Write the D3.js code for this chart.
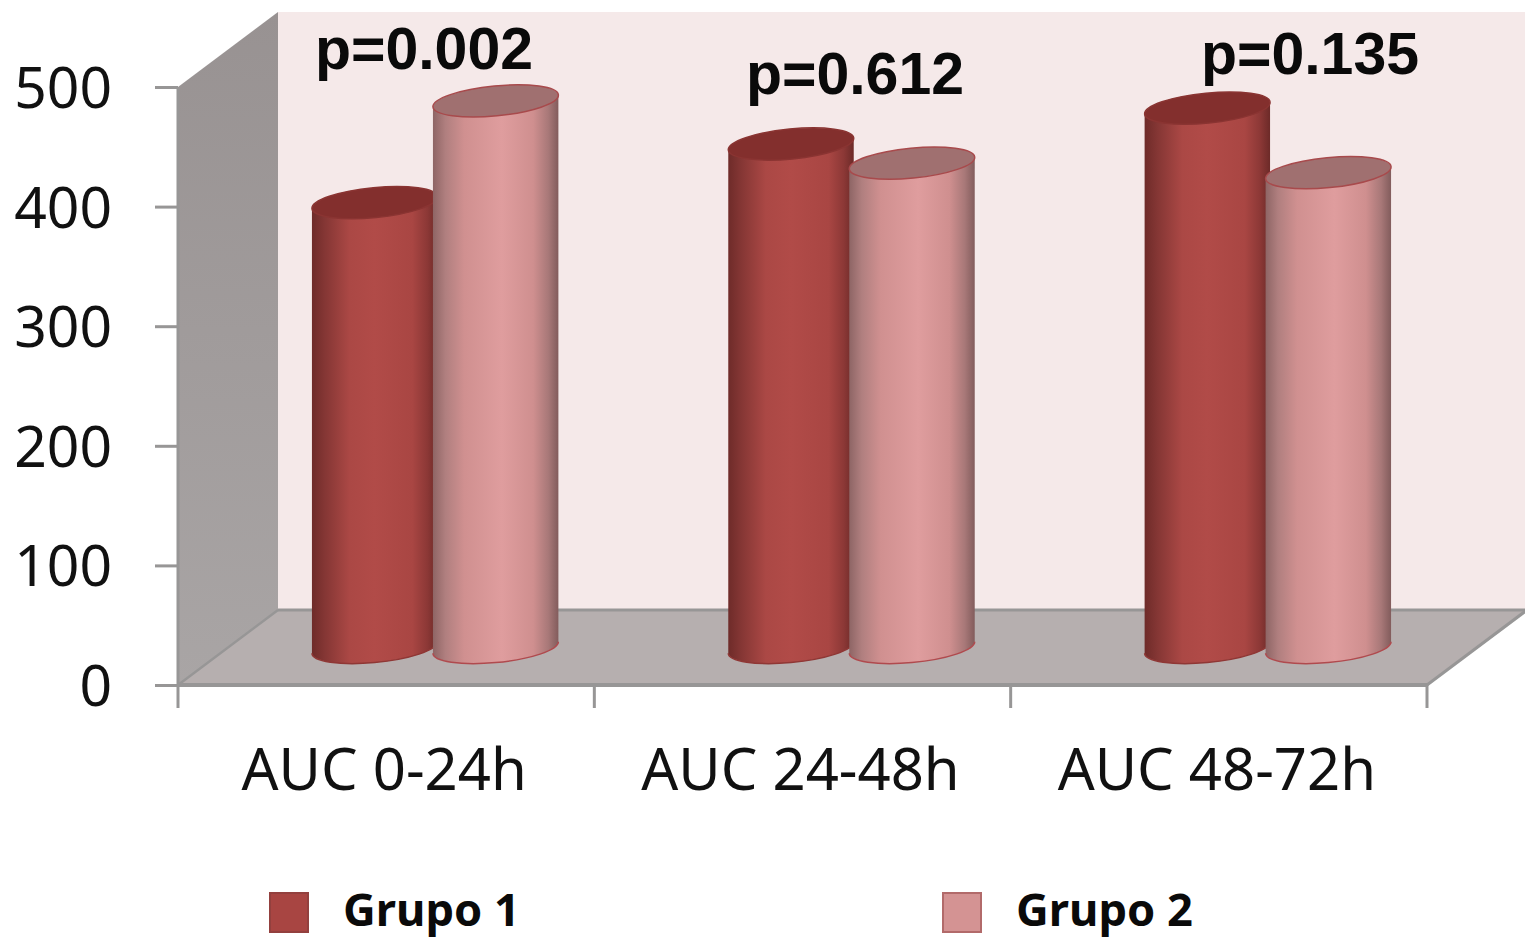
<!DOCTYPE html>
<html>
<head>
<meta charset="utf-8">
<script src="https://cdn.jsdelivr.net/npm/d3@7"></script>
<style>
html,body{margin:0;padding:0;background:#fff;overflow:hidden}
svg{display:block}
</style>
</head>
<body>
<svg id="chart" width="1525" height="938"></svg>
<script>
// Area under the curve per time window, two groups
const categories = ["AUC 0-24h", "AUC 24-48h", "AUC 48-72h"];
const seriesNames = ["Grupo 1", "Grupo 2"];
const grupo1 = [372, 421, 451];
const grupo2 = [457, 405, 397];
const pLabels = ["p=0.002", "p=0.612", "p=0.135"];
const yTicks = [0, 100, 200, 300, 400, 500];

const svg = d3.select("#chart");
const defs = svg.append("defs");

// Oblique projection of the chart box
const frontLeft = 178, frontRight = 1427, frontBase = 685, frontTop = 87;
const depthX = 100, depthY = -75;

const x = d3.scaleBand().domain(categories).range([frontLeft, frontRight]);
const y = d3.scaleLinear().domain([0, 500]).range([frontBase, frontTop]);
const inner = d3.scaleBand().domain(seriesNames).range([-122, 120]);

function addGradient(id, stops) {
  const g = defs.append("linearGradient").attr("id", id)
    .attr("x1", "0%").attr("x2", "100%").attr("y1", "0%").attr("y2", "0%");
  stops.forEach(([o, c]) => g.append("stop").attr("offset", o).attr("stop-color", c));
}
addGradient("bodyRed", [["0%", "#6e2b29"], ["10%", "#843634"], ["30%", "#ab4845"], ["50%", "#b14b48"], ["80%", "#a94643"], ["92%", "#8c3836"], ["100%", "#6c2a28"]]);
addGradient("bodyPink", [["0%", "#8e6565"], ["10%", "#b07f7f"], ["25%", "#d09090"], ["55%", "#df9d9e"], ["80%", "#cf8f8f"], ["92%", "#a87878"], ["100%", "#825c5c"]]);
const wallGrad = defs.append("linearGradient").attr("id", "wall")
  .attr("x1", "0%").attr("x2", "0%").attr("y1", "0%").attr("y2", "100%");
wallGrad.append("stop").attr("offset", "0%").attr("stop-color", "#989292");
wallGrad.append("stop").attr("offset", "100%").attr("stop-color", "#a9a5a5");

const poly = pts => "M" + pts.map(p => p.join(",")).join("L") + "Z";

// Back wall, left wall, floor
svg.append("path").attr("fill", "#f5e9e9").attr("d", poly([
  [frontLeft + depthX, y(500) + depthY], [frontRight + depthX, y(500) + depthY],
  [frontRight + depthX, y(0) + depthY], [frontLeft + depthX, y(0) + depthY]]));
svg.append("path").attr("fill", "url(#wall)").attr("d", poly([
  [frontLeft, y(500)], [frontLeft + depthX, y(500) + depthY],
  [frontLeft + depthX, y(0) + depthY], [frontLeft, y(0)]]));
svg.append("path").attr("fill", "#b6afaf").attr("stroke", "none").attr("d", poly([
  [frontLeft, y(0)], [frontLeft + depthX, y(0) + depthY],
  [frontRight + depthX, y(0) + depthY], [frontRight, y(0)]]));

// Frame edges
const edge = (x1, y1, x2, y2, w) => svg.append("line")
  .attr("x1", x1).attr("y1", y1).attr("x2", x2).attr("y2", y2)
  .attr("stroke", "#979696").attr("stroke-width", w);
edge(frontLeft, y(0), frontRight, y(0), 4);
edge(frontLeft, y(0), frontLeft, y(500), 3);
edge(frontLeft, y(0), frontLeft + depthX, y(0) + depthY, 2.5);
edge(frontLeft + depthX, y(0) + depthY, frontRight + depthX, y(0) + depthY, 3);
edge(frontRight, y(0), frontRight + depthX, y(0) + depthY, 3);

// Axes
const yAxis = d3.axisLeft(y).tickValues(yTicks).tickSize(23).tickPadding(43);
const gy = svg.append("g").attr("transform", `translate(${frontLeft},0)`).call(yAxis);
gy.select(".domain").remove();
gy.selectAll("line").attr("stroke", "#979696").attr("stroke-width", 3);
gy.selectAll("text").attr("fill", "#111").attr("dy", "0.36em")
  .style("font-family", "'Noto Sans'").style("font-size", "57px");

const xAxis = d3.axisBottom(x).tickSize(0).tickPadding(64);
const gx = svg.append("g").attr("transform", `translate(0,${frontBase})`).call(xAxis);
gx.select(".domain").remove();
gx.selectAll("text").attr("fill", "#111").style("font-family", "'Noto Sans'").style("font-size", "58px");
gx.selectAll(".tick").attr("transform", d => `translate(${x(d) + x.bandwidth() / 2 - 2},0)`);
const edges = [...categories.map(c => x(c)), frontRight];
svg.append("g").selectAll("line").data(edges).join("line")
  .attr("x1", d => d).attr("x2", d => d)
  .attr("y1", frontBase).attr("y2", frontBase + 23)
  .attr("stroke", "#979696").attr("stroke-width", 3);

// Cylinders sit halfway into the box depth
const rx = 63, ry = 15, tilt = 5.5;
const sin = Math.sin(tilt * Math.PI / 180), cos = Math.cos(tilt * Math.PI / 180);
// Where the vertical sides touch the tilted end ellipses
const halfW = Math.sqrt(rx * rx * cos * cos + ry * ry * sin * sin);
const sideDy = (rx * rx - ry * ry) * sin * cos / halfW;
const styles = [
  { body: "url(#bodyRed)", top: "#832f2d", edge: "#8a3432", rim: "#8f3735" },
  { body: "url(#bodyPink)", top: "#a07070", edge: "#a84a4c", rim: "#b04a4e" }
];

function drawCylinder(category, name, value, s) {
  const cx = x(category) + x.bandwidth() / 2 + depthX / 2 + inner(name) + inner.bandwidth() / 2;
  const base = y(0) + depthY / 2, top = y(value) + depthY / 2;
  const g = svg.append("g");
  g.append("path").attr("fill", s.body).attr("d",
    `M${cx - halfW},${top + sideDy}L${cx - halfW},${base + sideDy}` +
    `A${rx},${ry} ${-tilt} 0 0 ${cx + halfW},${base - sideDy}` +
    `L${cx + halfW},${top - sideDy}Z`);
  g.append("path").attr("fill", "none").attr("stroke", s.rim).attr("stroke-width", 1.5).attr("d",
    `M${cx - halfW},${base + sideDy}A${rx},${ry} ${-tilt} 0 0 ${cx + halfW},${base - sideDy}`);
  g.append("ellipse").attr("cx", cx).attr("cy", top).attr("rx", rx).attr("ry", ry)
    .attr("transform", `rotate(${-tilt} ${cx} ${top})`)
    .attr("fill", s.top).attr("stroke", s.edge).attr("stroke-width", 1.5);
}

categories.forEach((c, i) => {
  drawCylinder(c, seriesNames[0], grupo1[i], styles[0]);
  drawCylinder(c, seriesNames[1], grupo2[i], styles[1]);
});

// Significance labels above each pair
const pAnchorX = [424, 855, 1310], pBaseline = [69, 94, 74];
svg.append("g").selectAll("text").data(pLabels).join("text")
  .attr("x", (d, i) => pAnchorX[i]).attr("y", (d, i) => pBaseline[i])
  .attr("text-anchor", "middle").attr("fill", "#0a0a0a")
  .style("font-family", "'Liberation Sans'").style("font-weight", "700").style("font-size", "59px")
  .text(d => d);

// Legend
const legendX = [270, 943], swatchFill = ["#a84542", "#d49393"], swatchEdge = ["#93403e", "#b26a6a"];
const legend = svg.append("g").selectAll("g").data(seriesNames).join("g")
  .attr("transform", (d, i) => `translate(${legendX[i]},893)`);
legend.append("rect").attr("width", 38).attr("height", 39)
  .attr("fill", (d, i) => swatchFill[i]).attr("stroke", (d, i) => swatchEdge[i]).attr("stroke-width", 2);
legend.append("text").attr("x", 73).attr("y", 33).attr("fill", "#0a0a0a")
  .style("font-family", "'Noto Sans'").style("font-weight", "700").style("font-size", "44px")
  .attr("textLength", 177).attr("lengthAdjust", "spacingAndGlyphs")
  .text(d => d);
</script>
</body>
</html>
